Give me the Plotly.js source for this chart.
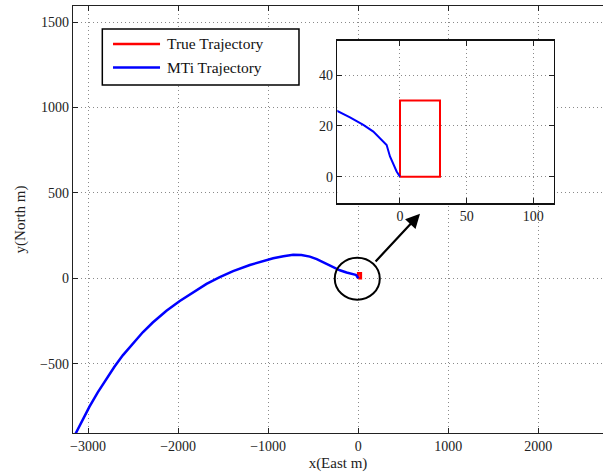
<!DOCTYPE html>
<html>
<head>
<meta charset="utf-8">
<script src="https://cdn.plot.ly/plotly-3.0.1.min.js"></script>
<style>html,body{margin:0;padding:0;background:#fff;}#chart{width:603px;height:476px;}</style>
</head>
<body>
<div id="chart"></div>
<script>
// ---- data ----
const trueName = "True Trajectory";
const mtiName = "MTi Trajectory";
const trueX = [0, 0, 30, 30, 0];
const trueY = [0, 30, 30, 0, 0];
const mtiX = [-3190, -3133, -3059, -2984, -2892, -2800, -2707, -2614, -2503, -2392, -2281, -2129, -1981, -1833, -1684, -1537, -1389, -1203, -1050, -944, -830, -722, -630, -537, -460, -389, -300, -203, -129, -47, -37.5, -27.5, -20, -15, -10, -7.5, -5, -2.5, 0];
const mtiY = [-963, -904, -827, -752, -668, -591, -518, -451, -380, -316, -259, -190, -133, -81, -33, 7, 42, 78, 103, 117, 129, 138, 137, 127, 112, 94, 71, 47, 34, 25.9, 23.4, 20.4, 17.8, 15.2, 12.5, 8, 4.7, 2.1, 0];
const mainXTicks = [-3000, -2000, -1000, 0, 1000, 2000];
const mainYTicks = [-500, 0, 500, 1000, 1500];
const insetXTicks = [0, 50, 100];
const insetYTicks = [0, 20, 40];
const xTitle = "x(East m)";
const yTitle = "y(North m)";

const FONT = "Liberation Serif, Times New Roman, serif";
const red = "#ff0000", blue = "#0000ff";

const traces = [
  {x: trueX, y: trueY, type: "scatter", mode: "lines", name: trueName, line: {color: red, width: 2.5}, xaxis: "x", yaxis: "y", showlegend: false},
  {x: mtiX, y: mtiY, type: "scatter", mode: "lines", name: mtiName, line: {color: blue, width: 2.5}, xaxis: "x", yaxis: "y", showlegend: false},
  {x: trueX, y: trueY, type: "scatter", mode: "lines", name: trueName, line: {color: red, width: 2}, xaxis: "x2", yaxis: "y2", showlegend: false},
  {x: mtiX, y: mtiY, type: "scatter", mode: "lines", name: mtiName, line: {color: blue, width: 2}, xaxis: "x2", yaxis: "y2", showlegend: false}
];

const axCommon = {
  showline: true, linecolor: "#222", linewidth: 1.3,
  ticks: "inside", ticklen: 5, tickwidth: 1, tickcolor: "#222",
  showgrid: true, gridcolor: "#8a8a8a", griddash: "1px,3px", gridwidth: 1,
  zeroline: false, tickfont: {family: FONT, size: 14, color: "#222"}
};

// legend box geometry (paper fraction)
const L = {x0: 0.0553, x1: 0.4264, y0: 0.8152, y1: 0.9462, lx0: 0.0755, lx1: 0.1642, tx: 0.1736, r1: 0.9111, r2: 0.8557};

const layout = {
  width: 603, height: 476,
  margin: {l: 73, r: 0, t: 6, b: 42.5},
  paper_bgcolor: "#fff", plot_bgcolor: "#fff",
  showlegend: false,
  font: {family: FONT, color: "#222"},
  xaxis: Object.assign({}, axCommon, {
    range: [-3167, 2719], tickvals: mainXTicks, mirror: "allticks",
    title: {text: xTitle, font: {family: FONT, size: 15, color: "#222"}, standoff: 4},
    domain: [0, 1], anchor: "y"
  }),
  yaxis: Object.assign({}, axCommon, {
    range: [-906, 1595], tickvals: mainYTicks, mirror: false,
    title: {text: yTitle, font: {family: FONT, size: 15, color: "#222"}, standoff: 10},
    domain: [0, 1], anchor: "x"
  }),
  xaxis2: Object.assign({}, axCommon, {
    range: [-47, 115.5], tickvals: insetXTicks, mirror: "allticks", linecolor: "#111", linewidth: 1.5,
    domain: [0.4987, 0.9075], anchor: "y2"
  }),
  yaxis2: Object.assign({}, axCommon, {
    range: [-10.3, 53.5], tickvals: insetYTicks, mirror: "allticks", linecolor: "#111", linewidth: 1.5,
    domain: [0.5385, 0.9188], anchor: "x2"
  }),
  shapes: [
    {type: "circle", xref: "x", yref: "y", x0: -260, x1: 240, y0: -125, y1: 121, line: {color: "#000", width: 2}},
    {type: "rect", xref: "paper", yref: "paper", x0: L.x0, x1: L.x1, y0: L.y0, y1: L.y1, line: {color: "#000", width: 1.5}, fillcolor: "#fff"},
    {type: "line", xref: "paper", yref: "paper", x0: L.lx0, x1: L.lx1, y0: L.r1, y1: L.r1, line: {color: red, width: 2.5}},
    {type: "line", xref: "paper", yref: "paper", x0: L.lx0, x1: L.lx1, y0: L.r2, y1: L.r2, line: {color: blue, width: 2.5}}
  ],
  annotations: [
    {xref: "x", yref: "y", x: 687, y: 378, axref: "x", ayref: "y", ax: 178, ay: 90, text: "", showarrow: true, arrowhead: 2, arrowsize: 1.3, arrowwidth: 2.2, arrowcolor: "#000"},
    {xref: "paper", yref: "paper", x: L.tx, y: L.r1, text: trueName, showarrow: false, xanchor: "left", yanchor: "middle", font: {family: FONT, size: 15.5, color: "#111"}},
    {xref: "paper", yref: "paper", x: L.tx, y: L.r2, text: mtiName, showarrow: false, xanchor: "left", yanchor: "middle", font: {family: FONT, size: 15.5, color: "#111"}}
  ]
};

Plotly.newPlot("chart", traces, layout, {staticPlot: true, displayModeBar: false});
</script>
</body>
</html>
